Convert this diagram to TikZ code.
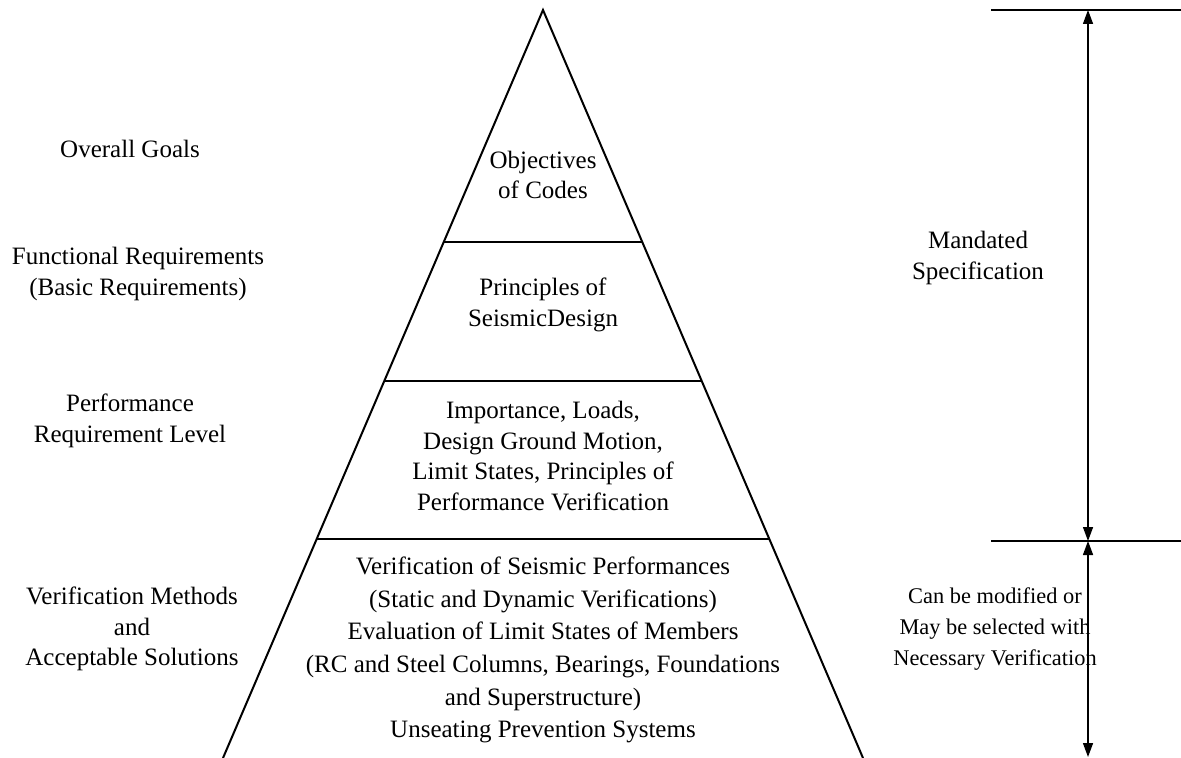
\documentclass[tikz,border=0pt]{standalone}
\usepackage{fontspec}
\setmainfont{Liberation Serif}
\usetikzlibrary{arrows.meta}
\begin{document}
\begin{tikzpicture}[x=0.5pt,y=-0.5pt,
  lbl/.style={align=center,inner sep=0pt,font=\fontsize{12.5}{15.3}\selectfont},
  edge/.style={line width=1pt},
  dim/.style={line width=0.7pt,{Triangle[width=5pt,length=7pt]}-{Triangle[width=5pt,length=7pt]}}]
\useasboundingbox (0,0) rectangle (1181,758);

% pyramid outline
\coordinate (apex) at (543,10);
\coordinate (bl) at (223,758);
\coordinate (br) at (863,758);
\draw[edge] (bl) -- (apex) -- (br);

% tier boundaries
\coordinate (t1l) at (443.7,242); \coordinate (t1r) at (642.3,242);
\coordinate (t2l) at (384.3,381); \coordinate (t2r) at (701.7,381);
\coordinate (t3l) at (316.7,539); \coordinate (t3r) at (769.3,539);
\draw[edge] (t1l) -- (t1r);
\draw[edge] (t2l) -- (t2r);
\draw[edge] (t3l) -- (t3r);

% tier contents
\node[lbl] (obj) at (543,175) {Objectives\\of Codes};
\node[lbl] (pri) at (543,305) {Principles of\\SeismicDesign};
\node[lbl] (imp) at (543,456) {Importance, Loads,\\Design Ground Motion,\\Limit States, Principles of\\Performance Verification};
\node[lbl,font=\fontsize{12.5}{16.3}\selectfont] (ver) at (543,650) {Verification of Seismic Performances\\(Static and Dynamic Verifications)\\Evaluation of Limit States of Members\\(RC and Steel Columns, Bearings, Foundations\\and Superstructure)\\Unseating Prevention Systems};

% level captions
\node[lbl] (goals) at (130,149) {Overall Goals};
\node[lbl] (func) at (138,274) {Functional Requirements\\(Basic Requirements)};
\node[lbl] (perf) at (130,421) {Performance\\Requirement Level};
\node[lbl] (meth) at (132,629) {Verification Methods\\and\\Acceptable Solutions};

% scope of the specification
\coordinate (topl) at (991,10);  \coordinate (topr) at (1181,10);
\coordinate (midl) at (991,541); \coordinate (midr) at (1181,541);
\coordinate (atop) at (1088,10);
\coordinate (amid) at (1088,541);
\coordinate (abot) at (1088,757);
\draw[edge] (topl) -- (topr);
\draw[edge] (midl) -- (midr);
\draw[dim] (atop) -- (amid);
\draw[dim] (amid) -- (abot);

\node[lbl] (mand) at (978,258) {Mandated\\Specification};
\node[lbl,font=\fontsize{11.2}{15.3}\selectfont] (mod) at (995,629) {Can be modified or\\May be selected with\\Necessary Verification};
\end{tikzpicture}
\end{document}
